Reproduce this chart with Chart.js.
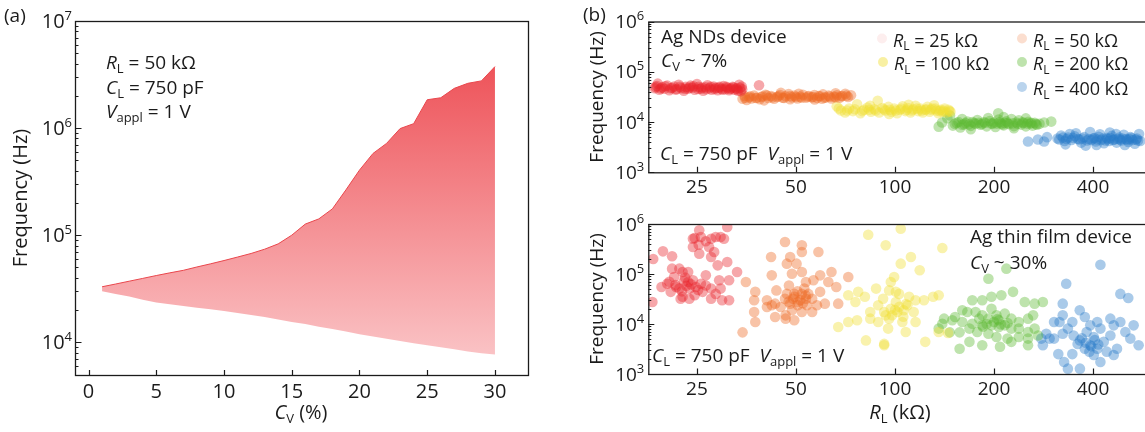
<!DOCTYPE html>
<html>
<head>
<meta charset="utf-8">
<script src="https://cdn.jsdelivr.net/npm/chart.js@4.4.1/dist/chart.umd.min.js"></script>
<style>
  html, body { margin: 0; padding: 0; overflow: hidden; background: #fff; width: 1145px; height: 432px; }
  .panel { position: absolute; }
</style>
</head>
<body>
<div class="panel" style="left:0;top:0;width:560px;height:432px"><canvas id="chartA" width="560" height="432"></canvas></div>
<div class="panel" style="left:580px;top:0;width:600px;height:200px"><canvas id="chartB1" width="600" height="200"></canvas></div>
<div class="panel" style="left:580px;top:200px;width:600px;height:232px"><canvas id="chartB2" width="600" height="232"></canvas></div>
<script>
// ---- panel (a): frequency window vs C_V ----
const cvPercent = [1, 2, 3, 4, 5, 6, 7, 8, 9, 10, 11, 12, 13, 14, 15, 16, 17, 18, 19, 20, 21, 22, 23, 24, 25, 26, 27, 28, 29, 30];
const freqUpperHz = [33000, 35000, 37200, 39500, 42000, 44500, 47000, 50500, 54000, 58000, 62500, 67500, 74000, 83000, 100000,
  127000, 142000, 176000, 265000, 405000, 580000, 720000, 990000, 1100000, 1840000, 1920000, 2350000, 2620000, 2760000, 3750000];
const freqLowerHz = [30000, 28300, 26700, 25000, 23500, 22600, 21800, 21000, 20300, 19600, 18800, 18000, 17200, 16300, 15500,
  14800, 14000, 13300, 12600, 11900, 11300, 10800, 10300, 9800, 9400, 9000, 8600, 8200, 7900, 7700];
const cvTicks = [0, 5, 10, 15, 20, 25, 30];
const freqTicksA = [1e4, 1e5, 1e6, 1e7];

// ---- panel (b): frequency vs R_L ----
const rlTicks = [25, 50, 100, 200, 400];
const freqTicksB = [1e3, 1e4, 1e5, 1e6];
const rlLabels = ['25', '50', '100', '200', '400'];

// Ag NDs device, [R_L (kOhm), f (Hz)]
const nds25 = [[18.6,47000],[18.9,52000],[19.2,44000],[19.6,49000],[19.9,46000],[20.3,53000],[20.6,43000],[21.0,48000],[21.3,51000],
  [21.7,45000],[22.0,55000],[22.4,47000],[22.8,42000],[23.1,50000],[23.5,46000],[23.9,53000],[24.2,48000],[24.6,44000],[25.0,57000],
  [25.3,50000],[25.7,46000],[26.1,42000],[26.5,49000],[26.9,54000],[27.3,47000],[27.7,44000],[28.1,51000],[28.5,48000],[28.9,43000],
  [29.3,50000],[29.7,46000],[30.1,52000],[30.5,45000],[30.9,48000],[31.3,43000],[31.7,47000],[32.1,50000],[32.5,44000],[32.9,47000],
  [33.3,42000],[33.6,55000],[33.8,48000],[34.0,41000],[19.0,58000],[38.6,54000],
  [18.7,50000],[19.4,46500],[20.0,51500],[20.8,47000],[21.5,44500],[22.2,50500],[23.0,46000],[23.7,48500],[24.4,51500],[25.2,45500],
  [25.9,48500],[26.7,45000],[27.5,50500],[28.3,45500],[29.1,48000],[29.9,44000],[30.7,50500],[31.5,45500],[32.3,48500],[33.1,45000],
  [34.2,51000],[34.3,45000]];
const nds50 = [[34.4,29000],[34.9,33000],[35.4,27500],[36.0,31000],[36.6,29500],[37.3,33500],[38.0,30500],[38.8,28500],[39.6,32500],
  [40.4,35000],[41.2,30000],[42.0,33000],[42.9,29000],[43.8,31500],[44.7,34500],[45.6,30500],[46.5,32500],[47.5,36000],[48.5,31000],
  [49.5,33500],[50.5,29500],[51.5,32000],[52.5,35000],[53.6,30500],[54.7,33000],[55.8,31000],[56.9,34500],[58.0,30000],[59.2,32500],
  [60.4,35500],[61.6,31000],[62.8,33500],[64.0,29500],[65.3,32000],[66.6,34000],[67.9,30500],[69.2,33000],[70.6,36500],[72.0,31500],
  [73.5,34000],[45.0,38000],[57.0,28000],[40.0,27000],[66.0,37500],[51.0,36500],
  [35.0,30500],[36.3,32500],[37.7,30000],[39.2,31500],[40.8,33500],[42.4,31000],[44.2,32500],[46.0,30000],[48.0,33000],[50.0,31500],
  [52.0,30500],[54.2,32000],[56.3,31500],[58.6,33000],[61.0,30500],[63.4,32000],[66.0,31000],[68.5,32500],[71.2,33500],[48.0,28500],
  [60.0,29000]];
const nds100 = [[66.5,20500],[68.5,17000],[70.5,15500],[72.5,18500],[74.5,16500],[76.7,22500],[78.5,15000],[80.5,17500],[82.5,19500],
  [84.5,16000],[86.5,18000],[88.6,26500],[89.5,15500],[91.5,19000],[93.5,17000],[95.5,20000],[97.5,16000],[99.5,18500],[101.5,15000],
  [103.5,17500],[105.5,20500],[107.5,16500],[109.5,19000],[111.5,15500],[113.5,18000],[115.5,21000],[117.5,16500],[119.5,18500],
  [121.5,15500],[123.5,17500],[125.5,20000],[127.5,16000],[129.5,18500],[131.5,21500],[133.5,17000],[135.5,15000],[137.5,17500],
  [139.5,16000],[141.5,18500],[143.5,15500],[145.5,17500],[147.5,16000],[96.0,14500],[110.0,22000],[84.0,21000],
  [67.5,18500],[71.5,17000],[75.5,18000],[79.5,16500],[83.5,17500],[87.5,17000],[92.5,18000],[96.5,17500],[100.5,17000],[104.5,18500],
  [108.5,17500],[112.5,17000],[116.5,18500],[120.5,17000],[124.5,18000],[128.5,17500],[132.5,18500],[136.5,16500],[140.5,17000],
  [146.5,16500]];
const nds200 = [[135.8,8100],[139.0,9800],[144.3,11900],[147.0,13500],[150.0,8500],[154.0,9600],[158.0,7800],[162.0,9000],[166.0,10200],
  [170.0,8400],[174.0,9500],[178.0,11000],[182.0,8800],[186.0,9900],[190.0,8200],[194.0,10500],[198.0,9200],[202.0,8000],[206.0,15000],
  [206.5,11200],[210.0,9400],[214.0,8600],[218.0,10300],[222.0,9100],[226.0,11500],[230.0,8300],[234.0,9800],[238.0,10800],[242.0,8900],
  [246.0,9600],[250.0,8200],[254.0,10100],[258.0,9300],[262.0,8500],[266.0,9700],[270.0,8800],[275.0,9200],[284.0,9800],[298.6,10200],
  [160.0,11500],[192.0,12000],[230.0,7500],[250.0,11800],[170.0,7200],[214.0,12500],
  [152,9200],[156,10000],[160,8800],[164,9500],[168,9000],[172,10000],[176,9200],[180,9600],[184,9100],[188,9700],[196,9400],
  [200,9800],[204,9300],[208,9900],[212,9000],[216,9600],[220,9500],[228,9400],[236,9200],[244,9900],[252,9300],[260,9600],[268,9100]];
const nds400 = [[253.8,4100],[272.0,4500],[284.0,4100],[290.0,5000],[312.0,4700],[320.0,5400],[328.0,4200],[336.0,4900],[344.0,4400],
  [352.0,5200],[360.0,4600],[368.0,3900],[376.0,5000],[384.0,4300],[392.0,6300],[400.0,4700],[408.0,4100],[416.0,5100],[424.0,4400],
  [432.0,3800],[440.0,4800],[448.0,4200],[456.0,5300],[464.0,4500],[472.0,3900],[480.0,4900],[488.0,4300],[496.0,5600],[504.0,4600],
  [512.0,4000],[520.0,5000],[528.0,4400],[536.0,3700],[544.0,4700],[552.0,5800],[557.0,4200],[330.0,3600],[355.0,6000],[410.0,3500],
  [450.0,6200],[380.0,3400],[470.0,5800],[500.0,3500],[340.0,5800],[420.0,5700],
  [316,4500],[324,4900],[332,4600],[348,4800],[364,4500],[372,4700],[388,4600],[396,4400],[404,4800],[412,4500],[428,4700],[436,4300],
  [444,4600],[452,4800],[460,4400],[476,4600],[484,4500],[492,4700],[508,4400],[516,4600],[524,4800],[540,4500],[548,4300]];

// Ag thin film device, [R_L (kOhm), f (Hz)]
const film25 = [[18.4,200000],[19.7,284000],[21.0,226000],[25.4,748000],[24.3,508000],[24.6,525000],[25.7,550000],[25.3,385000],
  [26.6,451000],[24.3,347000],[27.6,508000],[28.5,550000],[29.5,550000],[30.9,871000],[30.2,508000],[27.2,347000],[27.6,219000],
  [25.4,255000],[28.2,275000],[28.9,149000],[30.9,174000],[33.1,110000],[18.3,27500],[19.5,55000],[20.3,64000],[21.0,128000],
  [22.1,128000],[22.6,110000],[21.3,87000],[23.5,69000],[24.3,75000],[23.7,51000],[22.1,51000],[21.6,55000],[20.8,44000],[22.6,35000],
  [23.7,32000],[24.6,37500],[25.7,64000],[26.0,44000],[27.6,32000],[27.6,51000],[29.2,75000],[29.5,51000],[31.3,75000],[31.3,29800],
  [29.8,29800],[28.5,40000],[26.6,59000],[22.3,32000],[23.5,110000],[26.6,94000],
  [21.5,60000],[22.8,72000],[23.2,58000],[24.0,62000],[24.8,55000],[22.5,45000],[25.2,48000],[20.6,70000],[23.0,85000]];
const film50 = [[42.0,219000],[46.3,437000],[52.1,375000],[52.1,275000],[48.0,219000],[46.9,161000],[50.2,161000],[48.6,101000],
  [52.1,110000],[58.5,275000],[59.2,94000],[56.5,75000],[64.1,110000],[62.7,69000],[66.3,55000],[72.1,87000],[67.2,25500],[61.2,25500],
  [56.0,32000],[53.6,32000],[50.6,27500],[49.4,40000],[46.9,40000],[46.3,32000],[43.6,47000],[42.2,23700],[40.8,21900],[43.2,13800],
  [46.5,14900],[48.6,18800],[50.6,23700],[53.6,69000],[53.0,51000],[52.1,17400],[56.0,17400],[57.9,23700],[46.5,12800],[49.4,11900],
  [37.6,44000],[37.3,29800],[37.3,17400],[34.4,6800],[40.8,29800],[35.2,69000],[42.2,94000],[47.6,59000],[49.0,32000],[48.0,25500],
  [54.5,40000],[59.2,44000],[43.2,25500],[44.9,21900],[52.1,40000],[54.0,23700],[37.6,11000],
  [49.5,35000],[51.5,30000],[47.5,28000],[53.5,37000],[50.5,45000],[52.5,26000]];
const film100 = [[82.9,611000],[93.7,375000],[87.6,51000],[92.0,32000],[97.1,69000],[100.6,44000],[72.1,37500],[77.3,44000],[81.0,35000],
  [75.8,27500],[76.7,11900],[72.1,11000],[67.2,8700],[81.6,4700],[92.7,4000],[84.1,12800],[88.9,11000],[97.1,20200],[92.7,17400],
  [88.9,23700],[84.1,17400],[95.3,8100],[104.1,805000],[139.3,331000],[111.8,219000],[104.1,161000],[118.9,119000],[99.4,87000],
  [96.0,47000],[102.9,40000],[110.4,35000],[115.5,29800],[122.5,29800],[130.6,35000],[135.8,37500],[109.1,23700],[101.7,17400],
  [96.0,12800],[105.3,11000],[115.5,11000],[107.8,6900],[123.6,4400],[135.8,6900],[92.7,3750],[93.7,14900],[100.6,27500],[106.3,18800],
  [114.0,17400],[145.0,6600],
  [98,15000],[103,22000],[106,14000],[100,19000],[108,25000]];
const film200 = [[218.1,128000],[192.3,80600],[171.8,29800],[184.2,29800],[196.5,35000],[210.6,37500],[228.5,44000],[248.0,27500],
  [265.8,25500],[281.6,27500],[141.0,12800],[149.4,11900],[160.2,18800],[165.9,17400],[175.8,17400],[184.2,14900],[192.3,12800],
  [203.5,14900],[215.6,16100],[225.8,12800],[237.9,11000],[253.8,12800],[263.0,14900],[160.2,11000],[171.8,10100],[184.2,9400],
  [196.5,9400],[206.9,8700],[215.6,9400],[225.8,8100],[237.9,8100],[253.8,6900],[265.8,8100],[146.8,6800],[157.2,6800],[168.4,8100],
  [177.9,6900],[192.3,6400],[203.5,5500],[219.9,5100],[237.9,5500],[253.8,5100],[272.2,5900],[157.2,3200],[168.4,4400],[184.2,3750],
  [208.6,3500],[225.8,4400],[253.8,3750],[135.8,8100],[139.3,10100],[152.3,13800],[196.5,20200],[180.3,12800],[206.9,11900],
  [190,10000],[200,11000],[210,9800],[220,10500],[205,12500],[185,8800]];
const film400 = [[421.3,153000],[331.6,64000],[484.4,40000],[512.0,33000],[323.6,25500],[364.5,18800],[377.8,13800],[346.1,11000],
  [316.5,11000],[295.2,5100],[281.6,3750],[304.5,5100],[323.6,6400],[335.5,8100],[349.2,5900],[365.0,4700],[382.6,6900],[392.4,9400],
  [412.1,11000],[402.2,5500],[421.3,8100],[431.2,4400],[451.7,5900],[462.5,9400],[484.4,11000],[501.6,6900],[519.5,5100],[531.6,9400],
  [550.5,3750],[473.2,3200],[440.5,2800],[402.2,2400],[377.8,3200],[346.1,2500],[326.7,1740],[335.5,1280],[365.0,1280],[313.7,2500],
  [421.3,1740],[462.5,2400],[392.4,3750],[359.2,4000],[412.1,3200],[323.6,14900],[304.5,11000],[278.5,5100],[288.4,6400],[451.7,12800],
  [380,4200],[395,3600],[405,4800],[370,5200],[390,2800],[415,3900]];

const FONT = '"Open Sans", "DejaVu Sans", sans-serif';
const INK = '#1b1b1b';
const seriesRGB = ['232,35,42', '238,106,36', '240,222,50', '92,185,50', '40,122,200'];
const legendAlpha = [0.08, 0.22, 0.45, 0.4, 0.32];

// text made of pieces: [text, style]; style '' | 'i' | 'sub' | 'sup'
function rich(ctx, parts, x, y, size, align) {
  const fontFor = s => (s === 'i' ? 'italic ' : '') + ((s === 'sub' || s === 'sup') ? Math.round(size * 0.66) : size) + 'px ' + FONT;
  let w = 0;
  parts.forEach(([t, s]) => { ctx.font = fontFor(s); w += ctx.measureText(t).width; });
  let cx = align === 'center' ? x - w / 2 : align === 'right' ? x - w : x;
  ctx.textAlign = 'left';
  ctx.textBaseline = 'alphabetic';
  ctx.fillStyle = INK;
  parts.forEach(([t, s]) => {
    ctx.font = fontFor(s);
    const dy = s === 'sub' ? size * 0.2 : s === 'sup' ? -size * 0.42 : 0;
    ctx.fillText(t, cx, y + dy);
    cx += ctx.measureText(t).width;
  });
}

function richRotated(ctx, parts, x, y, size) {
  ctx.save();
  ctx.translate(x, y);
  ctx.rotate(-Math.PI / 2);
  rich(ctx, parts, 0, 0, size, 'center');
  ctx.restore();
}

function minorTicks(majors, min, max) {
  const out = [];
  majors.concat([majors[0] / 10]).forEach(m => {
    for (let k = 2; k <= 9; k++) { const v = m * k; if (v > min && v < max) out.push(v); }
  });
  return out;
}

function drawLogYTicks(ctx, scale, area, majors, majorLen, minorLen) {
  ctx.beginPath();
  majors.forEach(v => {
    const y = Math.round(scale.getPixelForValue(v)) + 0.5;
    ctx.moveTo(area.left, y); ctx.lineTo(area.left + majorLen, y);
  });
  minorTicks(majors, scale.min, scale.max).forEach(v => {
    const y = Math.round(scale.getPixelForValue(v)) + 0.5;
    ctx.moveTo(area.left, y); ctx.lineTo(area.left + minorLen, y);
  });
  ctx.stroke();
}

function drawXTicks(ctx, scale, area, values, len) {
  ctx.beginPath();
  values.forEach(v => {
    const x = Math.round(scale.getPixelForValue(v)) + 0.5;
    ctx.moveTo(x, area.bottom); ctx.lineTo(x, area.bottom - len);
  });
  ctx.stroke();
}

function pow10(v) { return Math.round(Math.log10(v)); }

// ---------- chart (a) ----------
const decorA = {
  id: 'decorA',
  afterDraw(chart) {
    const ctx = chart.ctx, a = chart.chartArea, sx = chart.scales.x, sy = chart.scales.y;
    ctx.save();
    ctx.strokeStyle = INK;
    ctx.lineWidth = 1.3;
    ctx.strokeRect(a.left + 0.5, a.top + 0.5, a.right - a.left, a.bottom - a.top);
    ctx.lineWidth = 1.2;
    drawLogYTicks(ctx, sy, a, freqTicksA, 6.5, 3.5);
    drawXTicks(ctx, sx, a, cvTicks, 5);
    freqTicksA.forEach(v => rich(ctx, [['10', ''], [String(pow10(v)), 'sup']], a.left - 3, sy.getPixelForValue(v) + 7, 20, 'right'));
    cvTicks.forEach(v => rich(ctx, [[String(v), '']], sx.getPixelForValue(v), 398, 20, 'center'));
    rich(ctx, [['C', 'i'], ['V', 'sub'], [' (%)', '']], 301, 419, 20, 'center');
    richRotated(ctx, [['Frequency (Hz)', '']], 27, (a.top + a.bottom) / 2, 20);
    rich(ctx, [['(a)', '']], 4, 22, 19, 'left');
    rich(ctx, [['R', 'i'], ['L', 'sub'], [' = 50 k\u03A9', '']], 106, 69, 19, 'left');
    rich(ctx, [['C', 'i'], ['L', 'sub'], [' = 750 pF', '']], 106, 94, 19, 'left');
    rich(ctx, [['V', 'i'], ['appl', 'sub'], [' = 1 V', '']], 106, 118, 19, 'left');
    ctx.restore();
  }
};

new Chart(document.getElementById('chartA'), {
  type: 'line',
  data: {
    datasets: [
      {
        data: cvPercent.map((c, i) => ({ x: c, y: freqUpperHz[i] })),
        fill: '+1',
        borderColor: '#e9464c',
        borderWidth: 1,
        pointRadius: 0,
        backgroundColor(context) {
          const area = context.chart.chartArea;
          if (!area) return 'rgba(240,120,125,0.8)';
          const g = context.chart.ctx.createLinearGradient(0, area.top, 0, area.bottom);
          g.addColorStop(0, 'rgb(236,66,73)');
          g.addColorStop(1, 'rgb(251,202,204)');
          return g;
        }
      },
      {
        data: cvPercent.map((c, i) => ({ x: c, y: freqLowerHz[i] })),
        fill: false,
        borderWidth: 0,
        pointRadius: 0
      }
    ]
  },
  options: {
    responsive: false,
    animation: false,
    devicePixelRatio: 1,
    layout: { padding: { left: 75, top: 21, right: 32, bottom: 57 } },
    scales: {
      x: { type: 'linear', display: false, min: -1, max: 32.44 },
      y: { type: 'logarithmic', display: false, min: 4950, max: 1e7 }
    },
    plugins: { legend: { display: false }, tooltip: { enabled: false } }
  },
  plugins: [decorA]
});

// ---------- chart (b), two stacked panels ----------
function legendRow(ctx, idx, mx, my, label) {
  ctx.beginPath();
  ctx.fillStyle = 'rgba(' + seriesRGB[idx] + ',' + legendAlpha[idx] + ')';
  ctx.arc(mx, my, 5, 0, Math.PI * 2);
  ctx.fill();
  rich(ctx, [['R', 'i'], ['L', 'sub'], [' = ' + label + ' k\u03A9', '']], mx + 11, my + 8, 18, 'left');
}

function makeDecorB(isTop) {
  return {
    id: 'decorB' + (isTop ? 'top' : 'bottom'),
    afterDraw(chart) {
      const ctx = chart.ctx, a = chart.chartArea, sx = chart.scales.x, sy = chart.scales.y;
      const oy = isTop ? 0 : 200; // page offset of this canvas
      const ox = 580;
      ctx.save();
      ctx.strokeStyle = INK;
      ctx.lineWidth = 1.3;
      ctx.strokeRect(a.left + 0.5, a.top + 0.5, a.right - a.left + 10, a.bottom - a.top);
      ctx.lineWidth = 1.2;
      drawLogYTicks(ctx, sy, a, freqTicksB, 6, 3);
      drawXTicks(ctx, sx, a, rlTicks, 5.5);
      freqTicksB.forEach(v => rich(ctx, [['10', ''], [String(pow10(v)), 'sup']], a.left - 4, sy.getPixelForValue(v) + 6.5, 19, 'right'));
      rlTicks.forEach((v, i) => rich(ctx, [[rlLabels[i], '']], sx.getPixelForValue(v), a.bottom + 21, 19, 'center'));
      richRotated(ctx, [['Frequency (Hz)', '']], 603 - ox, (a.top + a.bottom) / 2, 19);
      const cl = [['C', 'i'], ['L', 'sub'], [' = 750 pF  ', ''], ['V', 'i'], ['appl', 'sub'], [' = 1 V', '']];
      if (isTop) {
        rich(ctx, [['(b)', '']], 583 - ox, 21, 19, 'left');
        rich(ctx, [['Ag NDs device', '']], 661 - ox, 43, 19, 'left');
        rich(ctx, [['C', 'i'], ['V', 'sub'], [' ~ 7%', '']], 661 - ox, 67, 19, 'left');
        rich(ctx, cl, 660 - ox, 160, 19, 'left');
        legendRow(ctx, 0, 882 - ox, 38.5, '25');
        legendRow(ctx, 1, 1022 - ox, 38.5, '50');
        legendRow(ctx, 2, 883 - ox, 62, '100');
        legendRow(ctx, 3, 1022 - ox, 62, '200');
        legendRow(ctx, 4, 1022 - ox, 87, '400');
      } else {
        rich(ctx, [['Ag thin film device', '']], 970 - ox, 243 - oy, 19, 'left');
        rich(ctx, [['C', 'i'], ['V', 'sub'], [' ~ 30%', '']], 970 - ox, 269 - oy, 19, 'left');
        rich(ctx, cl, 652 - ox, 362 - oy, 19, 'left');
        rich(ctx, [['R', 'i'], ['L', 'sub'], [' (k\u03A9)', '']], 900 - ox, 419 - oy, 20, 'center');
      }
      ctx.restore();
    }
  };
}

function scatterPanel(id, groups, padTop, padBottom, isTop) {
  return new Chart(document.getElementById(id), {
    type: 'scatter',
    data: {
      datasets: groups.map((pts, i) => ({
        data: pts.map(([r, f]) => ({ x: r, y: f })),
        backgroundColor: 'rgba(' + seriesRGB[i] + ',0.4)',
        borderWidth: 0,
        pointRadius: 5.3,
        clip: 0
      }))
    },
    options: {
      responsive: false,
      animation: false,
      devicePixelRatio: 1,
      layout: { padding: { left: 68.3, top: padTop, right: 0, bottom: padBottom } },
      scales: {
        x: { type: 'logarithmic', display: false, min: 17.78, max: 708.7 },
        y: { type: 'logarithmic', display: false, min: 1e3, max: 1e6 }
      },
      plugins: { legend: { display: false }, tooltip: { enabled: false } }
    },
    plugins: [makeDecorB(isTop)]
  });
}

scatterPanel('chartB1', [nds25, nds50, nds100, nds200, nds400], 21.5, 27.7, true);
scatterPanel('chartB2', [film25, film50, film100, film200, film400], 24, 58, false);
</script>
</body>
</html>
